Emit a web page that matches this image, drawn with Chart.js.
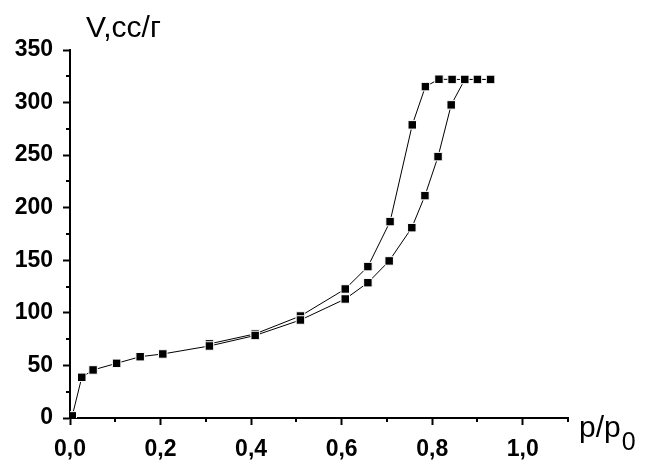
<!DOCTYPE html>
<html>
<head>
<meta charset="utf-8">
<script src="https://cdn.jsdelivr.net/npm/chart.js@4"></script>
<style>
  html, body { margin: 0; padding: 0; background: #fff; }
  #wrap { width: 646px; height: 467px; }
</style>
</head>
<body>
<div id="wrap"><canvas id="grafico"></canvas></div>
<script>
// adsorption branch (lower curve)
const adsX = [0.005, 0.026, 0.051, 0.103, 0.155, 0.205, 0.308, 0.409, 0.509, 0.608, 0.658, 0.705, 0.755, 0.784, 0.813, 0.842, 0.872, 0.900, 0.929];
const adsY = [2, 38.7, 45.7, 52, 58.3, 60.9, 68.5, 78.5, 93.2, 113.2, 128.7, 149.4, 181, 211.5, 248.6, 297.8, 322, 322, 322];
// desorption branch (upper curve)
const desX = [0.929, 0.900, 0.872, 0.844, 0.815, 0.785, 0.756, 0.707, 0.658, 0.608, 0.509, 0.409, 0.308];
const desY = [322, 322, 322, 322, 322.2, 315.2, 278.8, 186.8, 144, 122.7, 97, 80, 70.5];

const xTicks = [0, 0.2, 0.4, 0.6, 0.8, 1.0];
const xMinor = [0.1, 0.3, 0.5, 0.7, 0.9, 1.1];
const yTicks = [0, 50, 100, 150, 200, 250, 300, 350];
const yMinor = [25, 75, 125, 175, 225, 275, 325];

const fontNome = '"Liberation Sans", Arial, sans-serif';

function pontos(xs, ys) {
    return xs.map((x, i) => ({ x: x, y: ys[i] }));
}

const serie = {
    borderColor: '#000',
    borderWidth: 1,
    backgroundColor: '#000',
    pointStyle: 'rect',
    pointRadius: 6,
    pointBackgroundColor: '#000',
    pointBorderColor: '#fff',
    pointBorderWidth: 1,
    tension: 0
};

// minor ticks + axis titles
const extras = {
    id: 'extras',
    afterDraw(chart) {
        const ctx = chart.ctx;
        const sx = chart.scales.x, sy = chart.scales.y;
        const area = chart.chartArea;
        ctx.save();
        ctx.strokeStyle = '#000';
        ctx.lineWidth = 2;
        ctx.beginPath();
        xMinor.forEach(v => {
            const px = Math.round(sx.getPixelForValue(v));
            ctx.moveTo(px, area.bottom);
            ctx.lineTo(px, area.bottom + 4);
        });
        yMinor.forEach(v => {
            const py = Math.round(sy.getPixelForValue(v));
            ctx.moveTo(area.left, py);
            ctx.lineTo(area.left - 4, py);
        });
        ctx.stroke();

        ctx.fillStyle = '#000';
        ctx.textBaseline = 'alphabetic';
        ctx.textAlign = 'left';
        ctx.font = '30px ' + fontNome;
        ctx.fillText('V,cc/г', 86, 37);
        ctx.font = '30px ' + fontNome;
        ctx.fillText('p/p', 579, 437);
        const w = ctx.measureText('p/p').width;
        ctx.font = '25px ' + fontNome;
        ctx.fillText('0', 579 + w + 1, 450);
        ctx.restore();
    }
};

const ctx = document.getElementById('grafico').getContext('2d');
const chart = new Chart(ctx, {
    type: 'scatter',
    data: {
        datasets: [
            Object.assign({ label: 'adsorção', data: pontos(adsX, adsY), showLine: true }, serie),
            Object.assign({ label: 'dessorção', data: pontos(desX, desY), showLine: true }, serie)
        ]
    },
    options: {
        responsive: true,
        maintainAspectRatio: false,
        animation: false,
        layout: {
            padding: { top: 50, right: 78, left: 0, bottom: 0 }
        },
        scales: {
            x: {
                type: 'linear',
                min: 0,
                max: 1.1,
                afterBuildTicks: function (scale) {
                    scale.ticks = xTicks.map(v => ({ value: v }));
                },
                afterFit: function (scale) {
                    scale.height = 49;
                },
                border: { display: true, color: '#000', width: 2 },
                grid: { drawOnChartArea: false, drawTicks: true, tickLength: 7, tickWidth: 2, tickColor: '#000' },
                ticks: {
                    color: '#000',
                    padding: 11,
                    maxRotation: 0,
                    font: { family: fontNome, size: 23, weight: 'bold' },
                    callback: function (value) {
                        return value.toFixed(1).replace('.', ',');
                    }
                }
            },
            y: {
                type: 'linear',
                min: 0,
                max: 350,
                afterBuildTicks: function (scale) {
                    scale.ticks = yTicks.map(v => ({ value: v }));
                },
                afterFit: function (scale) {
                    scale.width = 70;
                },
                border: { display: true, color: '#000', width: 2 },
                grid: { drawOnChartArea: false, drawTicks: true, tickLength: 7, tickWidth: 2, tickColor: '#000' },
                ticks: {
                    color: '#000',
                    padding: 10,
                    font: { family: fontNome, size: 23, weight: 'bold' },
                    callback: function (value) {
                        return String(value);
                    }
                }
            }
        },
        plugins: {
            legend: { display: false },
            tooltip: { enabled: false }
        }
    },
    plugins: [extras]
});
</script>
</body>
</html>
